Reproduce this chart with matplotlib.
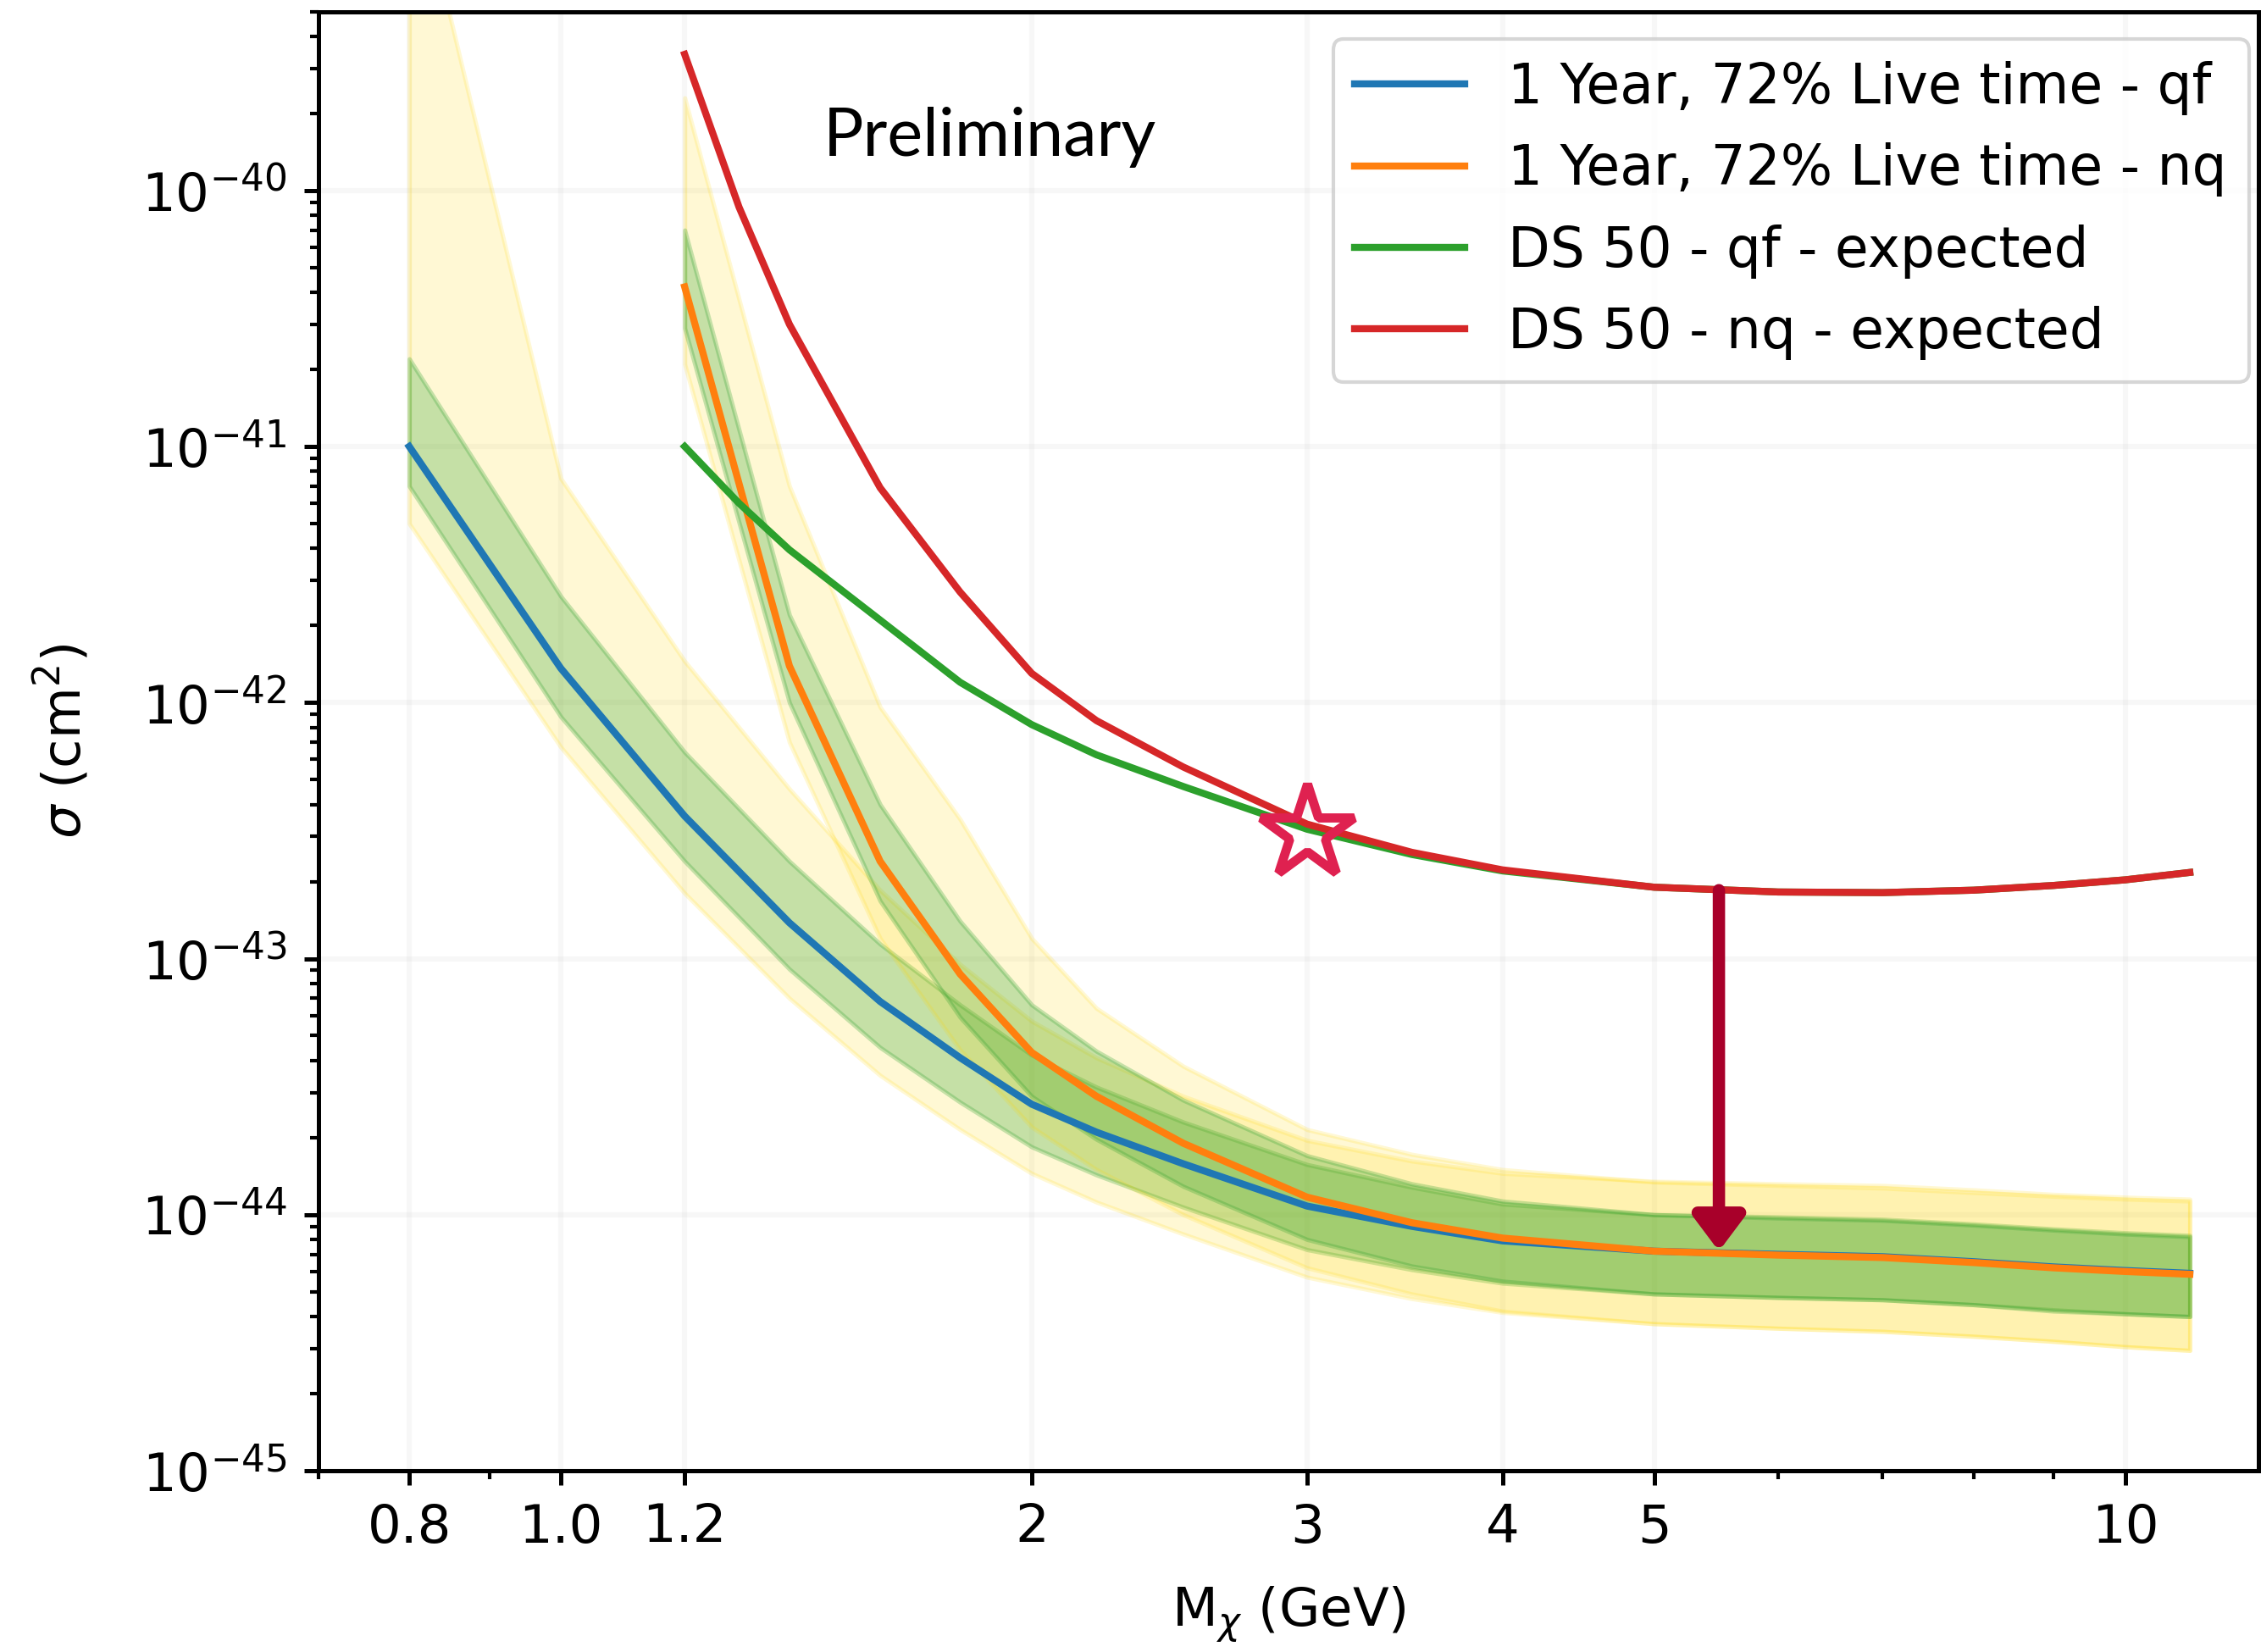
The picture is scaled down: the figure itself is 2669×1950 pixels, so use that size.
import numpy as np
import matplotlib.pyplot as plt
from matplotlib.ticker import NullFormatter

# 1 year, 72% live time - qf (central line and 1/2 sigma bands)
mass_qf = [0.8, 1.0, 1.2, 1.4, 1.6, 1.8, 2.0, 2.2, 2.5, 3.0, 3.5, 4.0, 5.0, 6.0, 7.0, 8.0, 9.0, 10.0, 11.0]
qf_mid = [1.0e-41, 1.36e-42, 3.6e-43, 1.38e-43, 6.8e-44, 4.1e-44, 2.7e-44, 2.1e-44, 1.58e-44, 1.08e-44,
          9.0e-45, 7.9e-45, 7.2e-45, 7.0e-45, 6.85e-45, 6.55e-45, 6.25e-45, 6.05e-45, 5.9e-45]
qf_1s_hi = [2.2e-41, 2.6e-42, 6.4e-43, 2.4e-43, 1.14e-43, 6.6e-44, 4.2e-44, 3.15e-44, 2.3e-44, 1.57e-44,
            1.28e-44, 1.1e-44, 1.0e-44, 9.8e-45, 9.6e-45, 9.2e-45, 8.8e-45, 8.5e-45, 8.3e-45]
qf_1s_lo = [7.0e-42, 8.8e-43, 2.4e-43, 9.1e-44, 4.5e-44, 2.75e-44, 1.84e-44, 1.43e-44, 1.07e-44, 7.3e-45,
            6.1e-45, 5.4e-45, 4.9e-45, 4.75e-45, 4.65e-45, 4.45e-45, 4.25e-45, 4.1e-45, 4.0e-45]
qf_2s_hi = [2.2e-39, 7.5e-42, 1.45e-42, 4.6e-43, 1.85e-43, 9.5e-44, 5.7e-44, 4.1e-44, 2.9e-44, 1.95e-44,
            1.62e-44, 1.45e-44, 1.35e-44, 1.32e-44, 1.3e-44, 1.25e-44, 1.2e-44, 1.17e-44, 1.15e-44]
qf_2s_lo = [5.0e-42, 6.7e-43, 1.8e-43, 7.0e-44, 3.5e-44, 2.15e-44, 1.45e-44, 1.12e-44, 8.4e-45, 5.7e-45,
            4.7e-45, 4.15e-45, 3.75e-45, 3.6e-45, 3.5e-45, 3.35e-45, 3.2e-45, 3.05e-45, 2.95e-45]

# 1 year, 72% live time - nq
mass_nq = [1.2, 1.4, 1.6, 1.8, 2.0, 2.2, 2.5, 3.0, 3.5, 4.0, 5.0, 6.0, 7.0, 8.0, 9.0, 10.0, 11.0]
nq_mid = [4.2e-41, 1.39e-42, 2.4e-43, 8.7e-44, 4.3e-44, 2.9e-44, 1.9e-44, 1.17e-44, 9.3e-45, 8.1e-45,
          7.2e-45, 6.95e-45, 6.8e-45, 6.5e-45, 6.2e-45, 6.0e-45, 5.85e-45]
nq_1s_hi = [7.0e-41, 2.2e-42, 4.0e-43, 1.4e-43, 6.6e-44, 4.35e-44, 2.8e-44, 1.7e-44, 1.32e-44, 1.13e-44,
            1.0e-44, 9.7e-45, 9.5e-45, 9.1e-45, 8.7e-45, 8.4e-45, 8.2e-45]
nq_1s_lo = [2.9e-41, 1.0e-42, 1.68e-43, 5.9e-44, 2.9e-44, 1.97e-44, 1.29e-44, 8.0e-45, 6.3e-45, 5.5e-45,
            4.9e-45, 4.75e-45, 4.65e-45, 4.45e-45, 4.2e-45, 4.1e-45, 4.0e-45]
nq_2s_hi = [2.3e-40, 7.0e-42, 9.6e-43, 3.5e-43, 1.2e-43, 6.4e-44, 3.8e-44, 2.15e-44, 1.72e-44, 1.5e-44,
            1.34e-44, 1.3e-44, 1.27e-44, 1.22e-44, 1.18e-44, 1.15e-44, 1.13e-44]
nq_2s_lo = [2.1e-41, 7.0e-43, 1.2e-43, 4.4e-44, 2.2e-44, 1.5e-44, 1.0e-44, 6.2e-45, 4.9e-45, 4.2e-45,
            3.75e-45, 3.6e-45, 3.5e-45, 3.35e-45, 3.2e-45, 3.05e-45, 2.95e-45]

# DS 50 expected limits
mass_ds = [1.2, 1.3, 1.4, 1.6, 1.8, 2.0, 2.2, 2.5, 3.0, 3.5, 4.0, 5.0, 6.0, 7.0, 8.0, 9.0, 10.0, 11.0]
ds_qf = [1.0e-41, 6.0e-42, 3.95e-42, 2.1e-42, 1.2e-42, 8.2e-43, 6.25e-43, 4.7e-43, 3.2e-43, 2.55e-43,
         2.2e-43, 1.9e-43, 1.82e-43, 1.81e-43, 1.85e-43, 1.93e-43, 2.03e-43, 2.17e-43]
ds_nq = [3.4e-40, 8.6e-41, 3.0e-41, 6.9e-42, 2.7e-42, 1.3e-42, 8.5e-43, 5.6e-43, 3.35e-43, 2.6e-43,
         2.22e-43, 1.9e-43, 1.82e-43, 1.81e-43, 1.85e-43, 1.93e-43, 2.03e-43, 2.17e-43]

labels = ['1 Year, 72% Live time - qf', '1 Year, 72% Live time - nq',
          'DS 50 - qf - expected', 'DS 50 - nq - expected']
x_ticks = [0.8, 1.0, 1.2, 2, 3, 4, 5, 10]
x_ticklabels = ['0.8', '1.0', '1.2', '2', '3', '4', '5', '10']
y_ticks = [1e-45, 1e-44, 1e-43, 1e-42, 1e-41, 1e-40]

# annotations added on top of the plot
star_point = (3.0, 3.1e-43)
arrow_x = 5.5
arrow_from, arrow_to = 1.85e-43, 7.2e-45

fig = plt.figure(figsize=(2669 / 300, 1950 / 300), dpi=300)
ax = fig.add_axes([376 / 2669, 214 / 1950, 2290 / 2669, 1722.5 / 1950])
ax.set_xscale('log')
ax.set_yscale('log')

# bands
ax.fill_between(mass_qf, qf_2s_lo, qf_2s_hi, color='gold', alpha=0.17, lw=1.2)
ax.fill_between(mass_qf, qf_1s_lo, qf_1s_hi, color='tab:green', alpha=0.27, lw=1.2)
ax.fill_between(mass_nq, nq_2s_lo, nq_2s_hi, color='gold', alpha=0.17, lw=1.2)
ax.fill_between(mass_nq, nq_1s_lo, nq_1s_hi, color='tab:green', alpha=0.27, lw=1.2)

# lines
ax.plot(mass_qf, qf_mid, color='tab:blue', lw=2.0, label=labels[0])
ax.plot(mass_nq, nq_mid, color='tab:orange', lw=2.0, label=labels[1])
ax.plot(mass_ds, ds_qf, color='tab:green', lw=2.0, label=labels[2])
ax.plot(mass_ds, ds_nq, color='tab:red', lw=2.0, label=labels[3])

ax.set_xlim(0.700, 12.17)
ax.set_ylim(1e-45, 5.0e-40)

ax.set_xticks(x_ticks)
ax.set_xticklabels(x_ticklabels)
ax.xaxis.set_minor_formatter(NullFormatter())
ax.set_yticks(y_ticks)

ax.grid(True, which='major', color='#b0b0b0', alpha=0.09, lw=1.5)
ax.set_axisbelow(True)

ax.tick_params(which='major', length=4, width=1.2, labelsize=15, pad=5)
ax.tick_params(which='minor', length=2.4, width=1.0)
for s in ax.spines.values():
    s.set_linewidth(1.2)

ax.set_xlabel(r'M$_\chi$ (GeV)', fontsize=15, labelpad=9)
ax.set_ylabel(r'$\sigma$ (cm$^2$)', fontsize=15, labelpad=14)

ax.legend(loc='upper right', bbox_to_anchor=(0.995, 0.981), borderaxespad=0,
          fontsize=15.5, labelspacing=0.5)

# star and arrow
ax.plot(*star_point, marker='*', ms=28, mfc='none', mec='#DF2150', mew=2.6, zorder=5)
ax.annotate('', xy=(arrow_x, arrow_to), xytext=(arrow_x, arrow_from),
            arrowprops=dict(arrowstyle='-|>,head_length=0.4,head_width=0.3', color='#A8002A',
                            lw=3.5, shrinkA=0, shrinkB=0, mutation_scale=20), zorder=5)

fig.text(1168 / 2669, 1 - 184 / 1950, 'Preliminary', family='Lato', fontsize=19,
         ha='center', va='baseline')

fig.savefig('out.png', dpi=300)
